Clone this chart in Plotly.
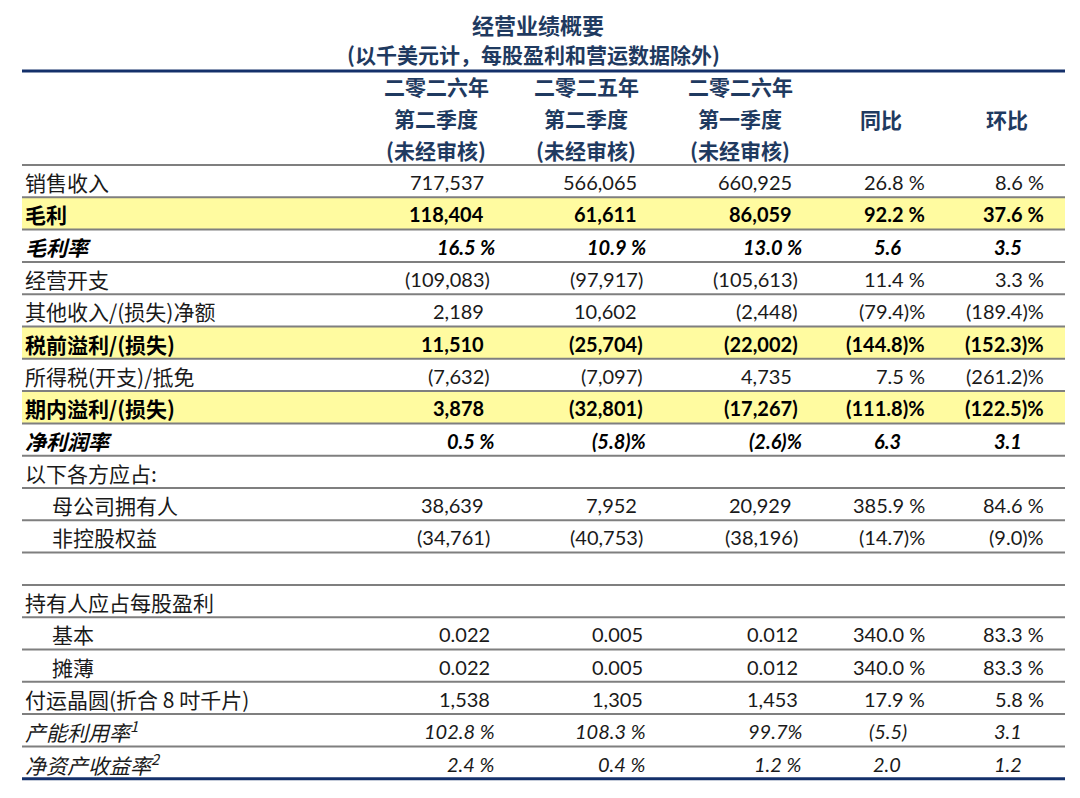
import plotly.graph_objects as go

# table data (thousand USD unless noted)
labels = ["销售收入", "毛利", "毛利率", "经营开支", "其他收入/(损失)净额",
          "税前溢利/(损失)", "所得税(开支)/抵免", "期内溢利/(损失)", "净利润率",
          "以下各方应占:", "母公司拥有人", "非控股权益", "",
          "持有人应占每股盈利", "基本", "摊薄", "付运晶圆(折合 8 吋千片)",
          "产能利用率<sup>1</sup>", "净资产收益率<sup>2</sup>"]

q2_2026 = ["717,537", "118,404", "16.5 %", "(109,083)", "2,189", "11,510", "(7,632)",
           "3,878", "0.5 %", "", "38,639", "(34,761)", "", "", "0.022", "0.022",
           "1,538", "102.8 %", "2.4 %"]
q2_2025 = ["566,065", "61,611", "10.9 %", "(97,917)", "10,602", "(25,704)", "(7,097)",
           "(32,801)", "(5.8)%", "", "7,952", "(40,753)", "", "", "0.005", "0.005",
           "1,305", "108.3 %", "0.4 %"]
q1_2026 = ["660,925", "86,059", "13.0 %", "(105,613)", "(2,448)", "(22,002)", "4,735",
           "(17,267)", "(2.6)%", "", "20,929", "(38,196)", "", "", "0.012", "0.012",
           "1,453", "99.7%", "1.2 %"]
yoy = ["26.8 %", "92.2 %", "5.6", "11.4 %", "(79.4)%", "(144.8)%", "7.5 %",
       "(111.8)%", "6.3", "", "385.9 %", "(14.7)%", "", "", "340.0 %", "340.0 %",
       "17.9 %", "(5.5)", "2.0"]
qoq = ["8.6 %", "37.6 %", "3.5", "3.3 %", "(189.4)%", "(152.3)%", "(261.2)%",
       "(122.5)%", "3.1", "", "84.6 %", "(9.0)%", "", "", "83.3 %", "83.3 %",
       "5.8 %", "3.1", "1.2"]

header_cols = [["二零二六年", "第二季度", "(未经审核)"],
               ["二零二五年", "第二季度", "(未经审核)"],
               ["二零二六年", "第一季度", "(未经审核)"],
               ["同比"], ["环比"]]

bold_rows = [1, 2, 5, 7, 8]
italic_rows = [2, 8, 17, 18]
highlight_rows = [1, 5, 7]
indent_rows = [10, 11, 14, 15]
eps_rows = [14, 15, 16]

NAVY = "#1f3a60"
LINE_NAVY = "#14306a"
GRAY = "#7f7f7f"
YELLOW = "#fffba0"
CJK = "Noto Sans CJK SC"
NUM = "Lato, Noto Sans CJK SC"

x_left, x_right = 22, 1065
top0, row_h = 165, 32.3
n_rows = len(labels)

plain_x = [486, 639, 794, 903, 1024]
pct_x = [497, 648, 804, 927, 1046]
head_x = [436, 586, 740, 881, 1007]

# page has an 8px body margin, so shift the axes to keep page-pixel coordinates
OFF = 8


def anchor(col, s, row):
    if s.endswith("%"):
        return pct_x[col]
    x = plain_x[col]
    if s.endswith(")") or (row in eps_rows and col < 3):
        x += 6
    return x


def style(s, row):
    if row in italic_rows:
        s = "<i>" + s + "</i>"
    if row in bold_rows:
        s = "<b>" + s + "</b>"
    return s


fig = go.Figure()
shapes = []
ann = []

# title
ann.append(dict(x=538, y=24, text="<b>经营业绩概要</b>", showarrow=False, borderpad=0,
                font=dict(family=CJK, size=22, color=NAVY)))
ann.append(dict(x=533, y=54, text="<b>(以千美元计，每股盈利和营运数据除外)</b>", showarrow=False,
                borderpad=0, font=dict(family=CJK, size=21, color=NAVY)))

# header
for c, lines in enumerate(header_cols):
    ys = [86, 118, 150] if len(lines) == 3 else [119]
    for t, yy in zip(lines, ys):
        ann.append(dict(x=head_x[c], y=yy, text="<b>" + t + "</b>", showarrow=False,
                        font=dict(family=CJK, size=21, color=NAVY)))

# highlight bands
for r in highlight_rows:
    shapes.append(dict(type="rect", x0=x_left, x1=x_right, y0=top0 + r * row_h,
                       y1=top0 + (r + 1) * row_h, fillcolor=YELLOW, line_width=0, layer="below"))

# rules
for i in range(n_rows):
    y = top0 + i * row_h
    shapes.append(dict(type="line", x0=x_left, x1=x_right, y0=y, y1=y,
                       line=dict(color=GRAY, width=2)))
for y in [71, top0 + n_rows * row_h]:
    shapes.append(dict(type="line", x0=x_left, x1=x_right, y0=y, y1=y,
                       line=dict(color=LINE_NAVY, width=3)))

# body
cols = [q2_2026, q2_2025, q1_2026, yoy, qoq]
for r in range(n_rows):
    yc = top0 + (r + 0.5) * row_h + 1
    color = "#000000" if r in bold_rows else "#1a1a1a"
    lx = 50 if r in indent_rows else x_left + 1
    if labels[r]:
        ann.append(dict(x=lx, y=yc, text=style(labels[r], r), showarrow=False, xanchor="left",
                        font=dict(family=CJK, size=21, color=color)))
    for c, col in enumerate(cols):
        s = col[r]
        if not s:
            continue
        ann.append(dict(x=anchor(c, s, r), y=yc, text=style(s, r), showarrow=False,
                        xanchor="right", font=dict(family=NUM, size=20, color=color)))

fig.update_layout(
    width=1080, height=798,
    margin=dict(l=0, r=0, t=0, b=0),
    paper_bgcolor="white", plot_bgcolor="white",
    xaxis=dict(range=[OFF, 1080 + OFF], visible=False, fixedrange=True),
    yaxis=dict(range=[798 + OFF, OFF], visible=False, fixedrange=True),
    shapes=shapes, annotations=ann, showlegend=False,
)

fig.write_html("out.html")
